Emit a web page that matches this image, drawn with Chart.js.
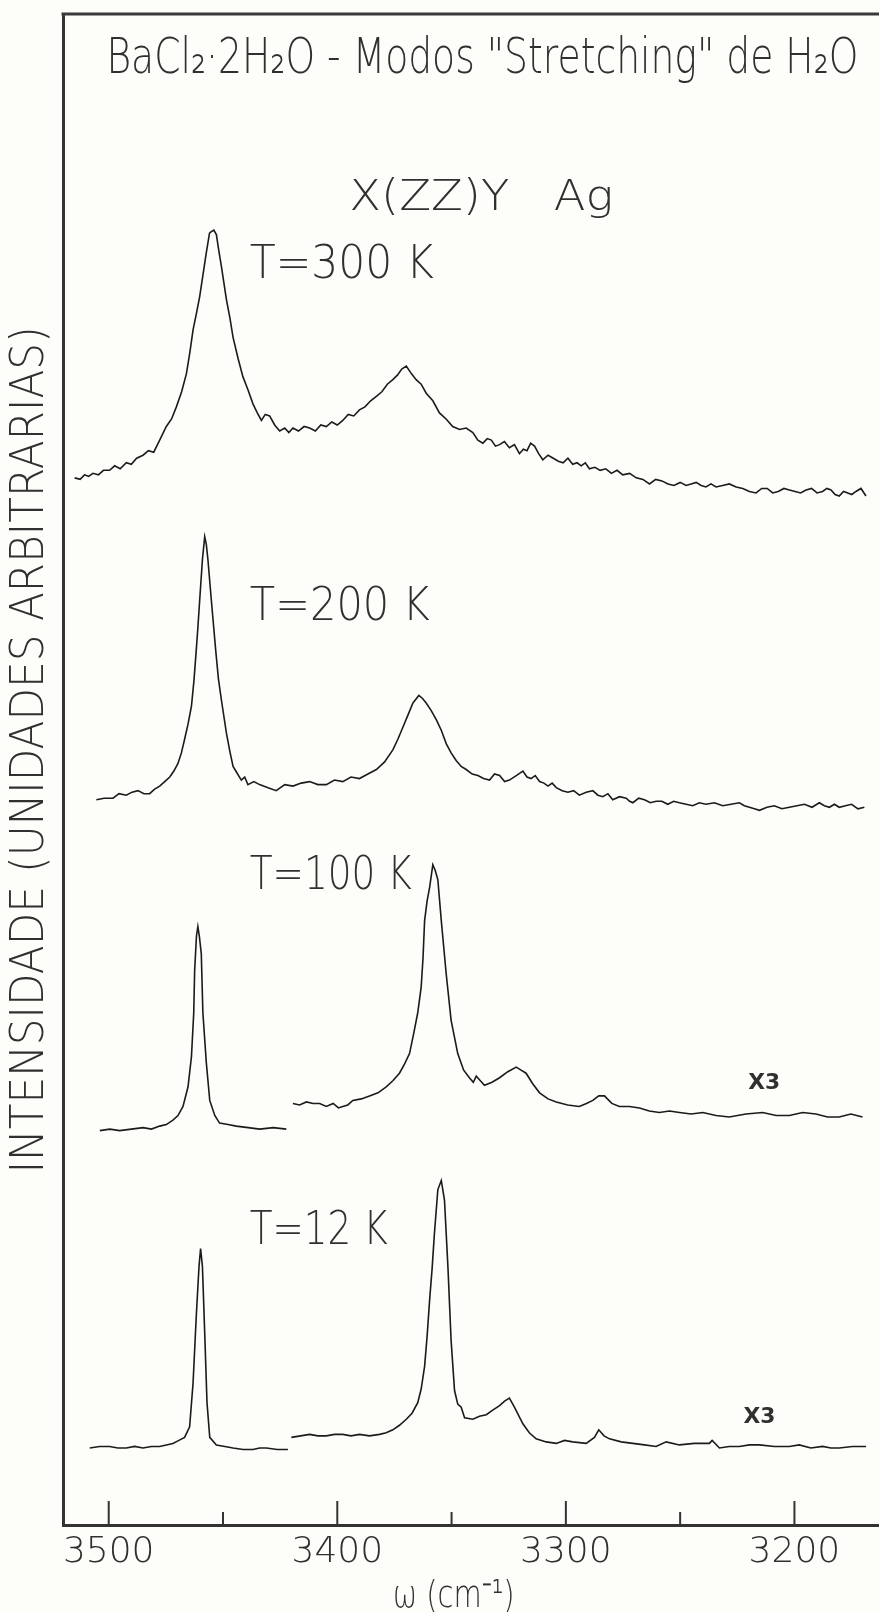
<!DOCTYPE html>
<html lang="pt">
<head>
<meta charset="utf-8">
<title>BaCl2.2H2O - Modos "Stretching" de H2O</title>
<script src="https://cdn.jsdelivr.net/npm/chart.js@4.4.1/dist/chart.umd.min.js"></script>
<style>
    html, body { margin: 0; padding: 0; background: #fdfdf9; }
    #wrap { position: relative; width: 879px; height: 1612px; }
</style>
</head>
<body>
<div id="wrap"><canvas id="raman-chart"></canvas></div>
<script>
'use strict';

// [omega (cm-1), intensidade (u.a.)] - curvas deslocadas na vertical como na figura
var espectro300K = [
    [3514.9, 69.3], [3512.5, 69.2], [3510.6, 69.5], [3508.8, 69.4], [3506.9, 69.6], [3504.5, 69.5],
    [3502.3, 69.8], [3499.6, 69.8], [3497.4, 70.1], [3495.0, 69.9], [3492.3, 70.3], [3490.1, 70.2],
    [3487.8, 70.6], [3485.0, 70.8], [3482.6, 71.1], [3480.3, 71.0], [3477.7, 71.8], [3474.8, 72.7],
    [3472.5, 73.2], [3470.4, 74.0], [3468.1, 75.0], [3466.0, 76.2], [3464.5, 77.6], [3463.1, 79.1],
    [3461.6, 80.2], [3460.2, 81.3], [3458.7, 82.8], [3457.3, 84.2], [3455.9, 85.5], [3455.1, 85.6],
    [3454.0, 85.7], [3452.9, 85.4], [3451.8, 84.3], [3450.7, 83.3], [3448.5, 81.1], [3447.0, 79.9],
    [3445.6, 78.6], [3443.4, 77.2], [3441.3, 76.0], [3439.0, 75.1], [3436.9, 74.2], [3435.0, 73.6],
    [3433.2, 73.1], [3431.5, 73.5], [3429.6, 73.4], [3427.4, 72.8], [3425.2, 72.4], [3423.0, 72.6],
    [3421.2, 72.3], [3419.4, 72.6], [3417.0, 72.4], [3414.5, 72.7], [3412.1, 72.6], [3409.6, 72.4],
    [3407.2, 72.8], [3404.8, 72.7], [3402.4, 73.0], [3400.0, 72.8], [3397.6, 73.1], [3395.2, 73.5],
    [3392.8, 73.4], [3390.3, 73.8], [3387.9, 74.0], [3385.4, 74.4], [3382.9, 74.7], [3380.5, 75.0],
    [3378.1, 75.5], [3375.7, 75.8], [3373.7, 76.1], [3371.8, 76.5], [3369.8, 76.7], [3367.6, 76.2],
    [3365.5, 75.8], [3363.3, 75.5], [3361.1, 74.9], [3358.2, 74.4], [3355.3, 73.6], [3352.4, 73.2],
    [3349.5, 72.7], [3346.5, 72.5], [3343.6, 72.6], [3340.7, 72.3], [3338.5, 71.8], [3336.3, 71.6],
    [3334.4, 71.9], [3332.6, 71.8], [3330.8, 71.4], [3329.0, 71.5], [3326.9, 71.7], [3324.7, 71.3],
    [3322.5, 71.5], [3320.3, 70.9], [3318.6, 71.2], [3317.0, 71.1], [3315.4, 71.6], [3313.7, 71.4],
    [3311.9, 70.9], [3310.1, 70.5], [3307.8, 70.8], [3305.5, 70.6], [3303.3, 70.4], [3301.2, 70.3],
    [3299.1, 70.6], [3297.0, 70.2], [3295.1, 70.3], [3293.3, 70.1], [3291.5, 70.3], [3289.7, 69.9],
    [3287.3, 70.0], [3285.0, 69.8], [3282.5, 69.9], [3280.1, 69.6], [3277.6, 69.8], [3275.1, 69.5],
    [3272.1, 69.6], [3269.2, 69.3], [3266.3, 69.2], [3263.4, 68.9], [3260.7, 69.2], [3258.0, 69.1],
    [3255.3, 68.9], [3252.7, 68.8], [3250.0, 69.0], [3247.4, 68.8], [3245.2, 68.9], [3243.0, 69.0],
    [3240.8, 68.8], [3238.7, 68.7], [3236.5, 68.9], [3234.3, 68.7], [3231.4, 68.8], [3228.5, 68.9],
    [3225.5, 68.7], [3222.6, 68.6], [3219.7, 68.4], [3216.8, 68.3], [3214.3, 68.6], [3211.9, 68.6],
    [3209.5, 68.3], [3207.1, 68.4], [3204.6, 68.6], [3202.2, 68.5], [3199.7, 68.4], [3197.3, 68.3],
    [3194.9, 68.5], [3192.5, 68.6], [3190.1, 68.3], [3187.7, 68.4], [3185.8, 68.6], [3184.0, 68.5],
    [3182.2, 68.2], [3180.4, 68.1], [3178.5, 68.4], [3176.7, 68.3], [3174.9, 68.2], [3173.1, 68.4],
    [3170.9, 68.6], [3168.7, 68.1]
];

var espectro200K = [
    [3505.4, 48.0], [3502.0, 48.1], [3498.1, 48.1], [3495.5, 48.4], [3492.3, 48.3], [3489.8, 48.5],
    [3487.2, 48.6], [3484.6, 48.4], [3482.1, 48.4], [3479.9, 48.7], [3477.7, 48.9], [3475.5, 49.2],
    [3473.3, 49.5], [3471.5, 49.9], [3469.7, 50.4], [3468.2, 51.1], [3466.8, 52.0], [3465.3, 53.0],
    [3463.8, 54.2], [3462.7, 55.9], [3461.7, 57.9], [3460.9, 59.6], [3460.2, 61.2], [3459.0, 63.9],
    [3458.0, 65.4], [3457.3, 64.9], [3456.6, 63.9], [3455.1, 61.2], [3453.2, 57.9], [3452.0, 56.0],
    [3450.7, 54.6], [3448.5, 52.4], [3447.0, 51.2], [3445.6, 50.2], [3444.0, 49.8], [3442.0, 49.3],
    [3440.5, 49.5], [3439.1, 49.0], [3436.5, 49.2], [3434.0, 49.0], [3430.3, 48.8], [3426.7, 48.6],
    [3423.0, 49.0], [3419.4, 48.9], [3415.8, 49.1], [3412.1, 49.2], [3408.5, 49.0], [3404.8, 49.0],
    [3401.2, 49.3], [3397.6, 49.2], [3394.0, 49.5], [3390.3, 49.4], [3386.6, 49.7], [3382.9, 50.0],
    [3379.3, 50.5], [3375.7, 51.3], [3373.5, 52.0], [3371.3, 52.8], [3369.1, 53.6], [3366.9, 54.4],
    [3364.3, 54.9], [3362.7, 54.7], [3361.1, 54.4], [3358.9, 53.9], [3356.7, 53.3], [3354.5, 52.6],
    [3352.3, 51.7], [3350.2, 51.1], [3348.0, 50.6], [3345.8, 50.2], [3343.6, 50.0], [3341.0, 49.7],
    [3338.5, 49.6], [3336.0, 49.4], [3333.4, 49.3], [3331.2, 49.7], [3329.0, 49.6], [3326.8, 49.2],
    [3324.7, 49.3], [3321.7, 49.6], [3318.8, 49.9], [3317.0, 49.5], [3315.2, 49.4], [3313.4, 49.6],
    [3311.5, 49.2], [3309.6, 49.1], [3307.8, 48.9], [3306.0, 49.1], [3304.2, 48.8], [3301.6, 48.6],
    [3299.1, 48.5], [3296.6, 48.6], [3294.1, 48.3], [3291.1, 48.5], [3288.2, 48.6], [3286.0, 48.3],
    [3283.8, 48.2], [3281.6, 48.4], [3279.5, 48.0], [3276.5, 48.2], [3273.6, 48.1], [3272.1, 47.9],
    [3270.7, 47.8], [3268.1, 48.1], [3265.6, 48.0], [3263.0, 47.8], [3260.5, 47.9], [3258.0, 47.9],
    [3255.4, 47.7], [3252.8, 47.9], [3250.3, 47.8], [3247.4, 47.7], [3244.5, 47.6], [3241.6, 47.8],
    [3238.7, 47.7], [3235.0, 47.8], [3231.4, 47.6], [3227.7, 47.7], [3224.1, 47.8], [3221.9, 47.6],
    [3219.7, 47.5], [3217.5, 47.4], [3215.3, 47.3], [3212.0, 47.5], [3208.8, 47.6], [3205.5, 47.4],
    [3202.2, 47.5], [3198.9, 47.6], [3195.6, 47.7], [3192.3, 47.5], [3189.1, 47.8], [3186.9, 47.6],
    [3184.7, 47.5], [3182.5, 47.7], [3180.4, 47.5], [3177.7, 47.6], [3175.0, 47.7], [3172.2, 47.4],
    [3169.4, 47.5]
];

var espectro100K = [
    [3503.9, 26.1], [3499.5, 26.2], [3495.2, 26.1], [3490.1, 26.2], [3485.0, 26.3], [3481.3, 26.2],
    [3477.7, 26.4], [3474.8, 26.5], [3471.9, 26.8], [3469.7, 27.1], [3467.5, 27.7], [3465.3, 29.0],
    [3463.8, 31.0], [3462.8, 33.9], [3462.4, 36.7], [3461.6, 39.0], [3461.0, 39.6], [3460.3, 38.9],
    [3459.5, 37.8], [3458.8, 33.9], [3457.3, 30.6], [3455.8, 28.1], [3453.6, 27.1], [3451.5, 26.6],
    [3447.8, 26.5], [3444.2, 26.4], [3439.0, 26.3], [3434.0, 26.2], [3428.0, 26.3], [3422.3, 26.2]
];

// trecho ampliado x3
var espectro100Kx3 = [
    [3419.4, 27.9], [3416.5, 27.8], [3413.5, 28.0], [3410.6, 27.9], [3407.7, 27.9], [3404.8, 27.7],
    [3401.8, 27.9], [3399.5, 27.6], [3397.6, 27.7], [3395.4, 27.8], [3393.2, 28.1], [3389.5, 28.2],
    [3385.9, 28.4], [3382.2, 28.6], [3378.6, 29.0], [3375.7, 29.4], [3372.8, 29.9], [3370.6, 30.5],
    [3368.4, 31.2], [3366.6, 32.5], [3364.8, 33.9], [3363.3, 35.6], [3362.5, 37.5], [3361.8, 40.0],
    [3360.7, 41.3], [3359.6, 42.2], [3358.2, 43.7], [3357.1, 43.3], [3356.0, 42.7], [3354.5, 40.0],
    [3352.3, 36.4], [3350.2, 33.4], [3347.3, 31.2], [3344.7, 30.1], [3342.2, 29.6], [3340.5, 29.3],
    [3339.2, 29.7], [3337.4, 29.4], [3335.6, 29.1], [3332.3, 29.3], [3329.0, 29.6], [3325.4, 30.0],
    [3321.7, 30.3], [3319.6, 30.1], [3317.4, 29.9], [3314.5, 29.2], [3311.5, 28.6], [3307.8, 28.2],
    [3304.2, 28.0], [3299.2, 27.8], [3294.1, 27.7], [3291.0, 27.9], [3288.2, 28.1], [3285.6, 28.4],
    [3283.1, 28.4], [3279.9, 27.9], [3276.6, 27.7], [3272.2, 27.7], [3267.8, 27.6], [3263.5, 27.4],
    [3259.1, 27.3], [3254.7, 27.4], [3250.3, 27.3], [3245.2, 27.2], [3240.1, 27.3], [3234.3, 27.1],
    [3228.5, 27.0], [3221.2, 27.2], [3213.9, 27.3], [3208.0, 27.1], [3202.2, 27.1], [3196.4, 27.3],
    [3190.6, 27.2], [3185.5, 27.0], [3180.4, 27.0], [3175.3, 27.2], [3170.2, 27.0]
];

var espectro12K = [
    [3508.3, 5.1], [3504.0, 5.2], [3499.6, 5.2], [3496.0, 5.1], [3492.3, 5.1], [3488.7, 5.2],
    [3485.0, 5.1], [3481.3, 5.2], [3477.7, 5.2], [3474.8, 5.3], [3471.9, 5.4], [3469.3, 5.6],
    [3466.8, 5.8], [3464.6, 6.5], [3463.1, 9.4], [3461.7, 13.8], [3460.5, 17.1], [3459.8, 18.3],
    [3459.0, 17.1], [3458.0, 12.7], [3457.0, 8.1], [3455.8, 5.8], [3452.9, 5.3], [3449.2, 5.2],
    [3445.6, 5.1], [3441.2, 5.0], [3436.9, 5.0], [3434.0, 5.1], [3431.0, 5.1], [3426.3, 5.0],
    [3421.6, 5.0]
];

// trecho ampliado x3
var espectro12Kx3 = [
    [3420.1, 5.8], [3416.1, 5.9], [3412.1, 6.0], [3408.5, 5.9], [3404.8, 5.9], [3401.2, 6.0],
    [3397.6, 6.0], [3394.0, 5.9], [3390.3, 6.0], [3385.9, 5.9], [3381.5, 6.0], [3378.6, 6.1],
    [3375.7, 6.3], [3372.8, 6.6], [3369.8, 7.0], [3367.3, 7.4], [3364.8, 8.1], [3363.3, 9.0],
    [3361.8, 10.5], [3360.7, 12.5], [3359.6, 14.9], [3358.5, 17.0], [3357.5, 19.3], [3356.0, 22.2],
    [3354.5, 22.8], [3353.1, 21.5], [3351.6, 17.1], [3350.2, 12.2], [3348.7, 8.9], [3347.3, 8.0],
    [3345.8, 7.8], [3344.3, 7.1], [3340.7, 7.0], [3337.8, 7.2], [3334.8, 7.3], [3332.0, 7.6],
    [3329.0, 7.9], [3326.8, 8.2], [3324.7, 8.4], [3322.5, 7.8], [3318.8, 6.7], [3316.0, 6.1],
    [3313.0, 5.7], [3308.6, 5.5], [3304.2, 5.4], [3300.6, 5.6], [3297.0, 5.5], [3291.1, 5.4],
    [3287.5, 5.8], [3285.6, 6.3], [3283.3, 5.9], [3280.9, 5.7], [3275.8, 5.5], [3270.7, 5.4],
    [3265.6, 5.3], [3260.5, 5.2], [3256.1, 5.5], [3250.3, 5.3], [3243.8, 5.4], [3237.2, 5.4],
    [3236.0, 5.6], [3232.8, 5.1], [3228.5, 5.2], [3224.1, 5.2], [3219.7, 5.3], [3215.3, 5.3],
    [3208.8, 5.2], [3202.2, 5.2], [3197.9, 5.3], [3192.8, 5.1], [3187.7, 5.2], [3184.0, 5.1],
    [3180.4, 5.1], [3174.6, 5.2], [3168.7, 5.2]
];

var xTicks = [3500, 3400, 3300, 3200];
var xMinorTicks = [3450, 3350, 3250];
var xRange = [3163, 3520];
var yRange = [0, 100];

var FONT = '"DejaVu Sans", "Liberation Sans", sans-serif';
var FONT_WEIGHT = '300';
var INK = '#303030';

// textos da figura, posicionados em coordenadas do grafico (cm-1, u.a.)
var rotulos = [
    { text: 'BaCl\u2082\u00b72H\u2082O - Modos "Stretching" de H\u2082O', x: 3336.5, y: 96.1, size: 50, width: 752, baseline: 'alphabetic' },
    { text: 'X(ZZ)Y   Ag', x: 3337, y: 87.0, size: 43, width: 264, baseline: 'alphabetic' },
    { text: 'T=300 K', x: 3438.3, y: 83.3, size: 46, width: 184, align: 'left' },
    { text: 'T=200 K', x: 3438.3, y: 60.7, size: 46, width: 180, align: 'left' },
    { text: 'T=100 K', x: 3438.3, y: 42.9, size: 46, width: 162, align: 'left' },
    { text: 'T=12 K', x: 3438.3, y: 19.4, size: 46, width: 138, align: 'left' },
    { text: 'X3', x: 3213.2, y: 29.25, size: 22, width: 32, weight: 'bold' },
    { text: 'X3', x: 3215.3, y: 7.15, size: 22, width: 32, weight: 'bold' },
    { text: '\u03c9 (cm\u207b\u00b9)', x: 3349.1, y: -4.8, size: 38, width: 122 },
    { text: 'INTENSIDADE (UNIDADES ARBITRARIAS)', x: 3534.0, y: 51.3, size: 46, width: 847, rotate: -Math.PI / 2 }
];

function fitText(ctx, label, px, py) {
    ctx.save();
    ctx.font = (label.weight || FONT_WEIGHT) + ' ' + label.size + 'px ' + FONT;
    ctx.fillStyle = INK;
    ctx.textAlign = label.align || 'center';
    ctx.textBaseline = label.baseline || 'middle';
    ctx.translate(px, py);
    if (label.rotate) ctx.rotate(label.rotate);
    if (label.width) {
        var w = ctx.measureText(label.text).width;
        ctx.scale(label.width / w, 1);
    }
    ctx.fillText(label.text, 0, 0);
    ctx.restore();
}

var paperPlugin = {
    id: 'paper',
    beforeDraw: function(chart) {
        var ctx = chart.ctx;
        ctx.save();
        ctx.fillStyle = '#fdfdf9';
        ctx.fillRect(0, 0, chart.width, chart.height);
        ctx.restore();
    },
    afterDraw: function(chart) {
        var ctx = chart.ctx;
        var area = chart.chartArea;
        var xs = chart.scales.x;
        var ys = chart.scales.y;

        // moldura superior
        ctx.save();
        ctx.strokeStyle = '#3a3a3a';
        ctx.lineWidth = 3;
        ctx.beginPath();
        ctx.moveTo(area.left - 1.5, area.top);
        ctx.lineTo(area.right, area.top);
        ctx.stroke();

        // marcas do eixo x voltadas para dentro
        ctx.lineWidth = 2;
        ctx.strokeStyle = '#333';
        xTicks.forEach(function(v) {
            var px = xs.getPixelForValue(v);
            ctx.beginPath();
            ctx.moveTo(px, area.bottom);
            ctx.lineTo(px, area.bottom - 24);
            ctx.stroke();
        });
        xMinorTicks.forEach(function(v) {
            var px = xs.getPixelForValue(v);
            ctx.beginPath();
            ctx.moveTo(px, area.bottom);
            ctx.lineTo(px, area.bottom - 13);
            ctx.stroke();
        });
        ctx.restore();

        rotulos.forEach(function(label) {
            fitText(ctx, label, xs.getPixelForValue(label.x), ys.getPixelForValue(label.y));
        });
    }
};

function serie(nome, pontos) {
    return {
        label: nome,
        data: pontos.map(function(p) { return { x: p[0], y: p[1] }; }),
        borderColor: '#1b1b1b',
        borderWidth: 1.6,
        pointRadius: 0,
        fill: false,
        tension: 0
    };
}

function initChart() {
    var canvas = document.getElementById('raman-chart');

    new Chart(canvas, {
        type: 'line',
        data: {
            datasets: [
                serie('T=300 K', espectro300K),
                serie('T=200 K', espectro200K),
                serie('T=100 K', espectro100K),
                serie('T=100 K x3', espectro100Kx3),
                serie('T=12 K', espectro12K),
                serie('T=12 K x3', espectro12Kx3)
            ]
        },
        options: {
            responsive: true,
            maintainAspectRatio: false,
            animation: false,
            events: [],
            layout: {
                padding: { top: 14, right: 0, bottom: 0, left: 0 }
            },
            plugins: {
                legend: { display: false },
                tooltip: { enabled: false }
            },
            scales: {
                x: {
                    type: 'linear',
                    reverse: true,
                    min: xRange[0],
                    max: xRange[1],
                    afterFit: function(scale) { scale.height = 87; },
                    afterBuildTicks: function(scale) {
                        scale.ticks = xTicks.map(function(v) { return { value: v }; });
                    },
                    grid: { display: false, drawTicks: false },
                    border: { display: true, color: '#333', width: 3 },
                    ticks: {
                        autoSkip: false,
                        maxRotation: 0,
                        padding: 6,
                        color: INK,
                        font: { family: FONT, size: 36, weight: FONT_WEIGHT, lineHeight: 1.2 },
                        callback: function(v) { return String(v); }
                    }
                },
                y: {
                    type: 'linear',
                    min: yRange[0],
                    max: yRange[1],
                    afterFit: function(scale) { scale.width = 63; },
                    grid: { display: false, drawTicks: false },
                    border: { display: true, color: '#333', width: 3 },
                    ticks: { display: false }
                }
            }
        },
        plugins: [paperPlugin]
    });
}

initChart();
</script>
</body>
</html>
